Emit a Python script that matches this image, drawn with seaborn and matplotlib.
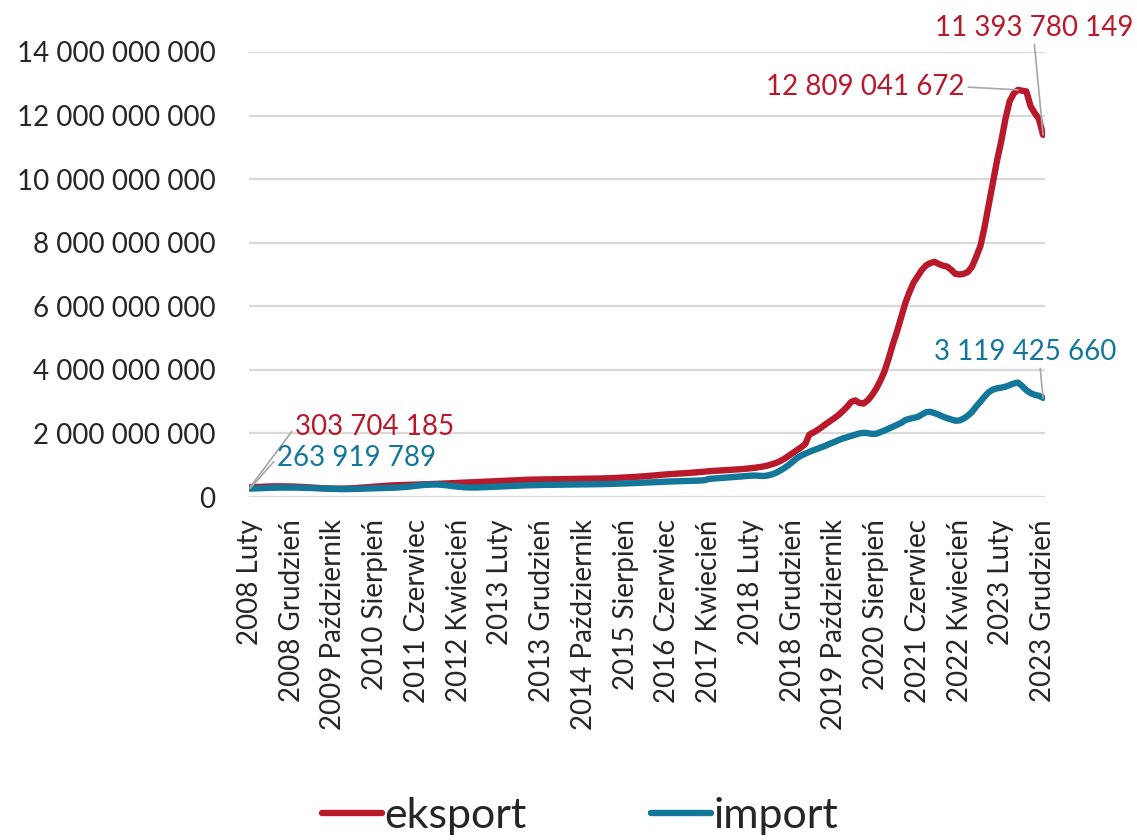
import numpy as np
import pandas as pd
import seaborn as sns
import matplotlib.pyplot as plt

# values in millions PLN, monthly from 2008 Luty to 2023 Grudzień
eksport = [303.704185, 310, 318, 325, 330, 333, 335, 336, 335, 333, 330,
           325, 318, 310, 300, 292, 285, 278, 272, 268, 265,
           262, 262, 265, 270, 278, 288, 298, 308, 318, 328,
           338, 348, 356, 364, 370, 375, 380, 384, 388, 392,
           396, 400, 405, 410, 415, 420, 426, 432, 438, 444,
           450, 455, 460, 466, 472, 478, 484, 490, 496, 502,
           508, 514, 520, 528, 535, 540, 545, 548, 550, 552,
           554, 556, 558, 560, 561, 563, 564, 566, 568, 570,
           572, 575, 578, 582, 586, 590, 596, 602, 608, 615,
           622, 630, 638, 648, 658, 668, 680, 692, 704, 714,
           722, 730, 740, 748, 756, 766, 776, 788, 800, 812,
           820, 828, 836, 844, 852, 860, 870, 880, 892, 905,
           920, 940, 960, 990, 1030, 1070, 1130, 1200, 1290, 1380,
           1470, 1560, 1660, 1960, 2030, 2110, 2200, 2300, 2390, 2480,
           2580, 2700, 2830, 2990, 3040, 2960, 2940, 3040, 3200, 3400,
           3650, 3950, 4350, 4800, 5200, 5650, 6100, 6450, 6750, 6950,
           7150, 7290, 7360, 7400, 7330, 7280, 7250, 7150, 7020, 7000,
           7020, 7080, 7250, 7560, 7900, 8500, 9200, 9900, 10600, 11200,
           11900, 12450, 12700, 12809.041672, 12780, 12760, 12300, 12080, 11900, 11393.780149]

import_ = [263.919789, 270, 276, 282, 287, 291, 294, 296, 297, 297, 296,
           295, 293, 290, 286, 281, 276, 270, 264, 258, 254,
           250, 248, 248, 250, 254, 258, 262, 266, 270, 274,
           278, 282, 286, 290, 296, 304, 314, 326, 340, 356,
           370, 382, 390, 394, 392, 384, 370, 352, 336, 322,
           310, 302, 298, 298, 302, 308, 314, 320, 326, 332,
           338, 344, 350, 356, 362, 366, 370, 374, 377, 380,
           382, 384, 386, 388, 390, 392, 393, 394, 395, 396,
           398, 400, 402, 404, 407, 410, 414, 418, 422, 426,
           432, 438, 444, 450, 456, 462, 468, 474, 480, 485,
           490, 494, 498, 502, 506, 510, 514, 518, 530, 570,
           580, 590, 600, 610, 620, 630, 640, 650, 660, 670,
           675, 668, 660, 675, 710, 760, 830, 910, 1000, 1110,
           1220, 1300, 1360, 1420, 1470, 1520, 1570, 1620, 1680, 1730,
           1790, 1840, 1880, 1920, 1960, 2000, 2020, 2010, 1985, 1990,
           2040, 2090, 2150, 2210, 2270, 2330, 2420, 2460, 2490, 2520,
           2600, 2670, 2680, 2640, 2590, 2530, 2480, 2440, 2400, 2410,
           2470, 2560, 2680, 2850, 3000, 3160, 3300, 3380, 3420, 3440,
           3470, 3520, 3570, 3600, 3490, 3360, 3270, 3215, 3185, 3119.425660]

tick_labels = ['2008 Luty', '2008 Grudzień', '2009 Październik', '2010 Sierpień',
               '2011 Czerwiec', '2012 Kwiecień', '2013 Luty', '2013 Grudzień',
               '2014 Październik', '2015 Sierpień', '2016 Czerwiec', '2017 Kwiecień',
               '2018 Luty', '2018 Grudzień', '2019 Październik', '2020 Sierpień',
               '2021 Czerwiec', '2022 Kwiecień', '2023 Luty', '2023 Grudzień']

red = '#B8192B'
blue = '#13779A'

n = len(eksport)
df = pd.DataFrame({
    'miesiac': list(range(n)) * 2,
    'wartosc': [v * 1e6 for v in eksport] + [v * 1e6 for v in import_],
    'seria': ['eksport'] * n + ['import'] * n,
})

sns.set_style('white')
plt.rcParams['font.family'] = ['Lato', 'DejaVu Sans']

fig = plt.figure(figsize=(11.37, 8.4), dpi=100)
ax = fig.add_axes([249 / 1137, 1 - 497 / 840, 796 / 1137, 445 / 840])

sns.lineplot(data=df, x='miesiac', y='wartosc', hue='seria',
             palette={'eksport': red, 'import': blue}, linewidth=4.6, ax=ax)
for ln in ax.get_lines():
    ln.set_solid_capstyle('round')
    ln.set_solid_joinstyle('round')
handles, labels = ax.get_legend_handles_labels()
ax.get_legend().remove()

ax.set_xlim(-0.24, 190.47)
ax.set_ylim(0, 14e9)
ax.set_yticks(np.arange(0, 14e9 + 1, 2e9))
ax.set_yticklabels([f'{int(v):,}'.replace(',', ' ') for v in ax.get_yticks()], fontsize=20)
ax.set_xticks(range(0, n, 10))
ax.set_xticklabels(tick_labels, rotation=90, fontsize=20)
ax.tick_params(axis='y', length=0, pad=24)
ax.tick_params(axis='x', length=0, pad=16)
ax.set_xlabel('')
ax.set_ylabel('')
ax.grid(axis='y', color='#D9D9D9', linewidth=1.6)
ax.set_axisbelow(True)
for s in ax.spines.values():
    s.set_visible(False)

lead = dict(arrowstyle='-', color='#A6A6A6', lw=1.2, shrinkA=0, shrinkB=0)
# data labels
ax.annotate(f'{round(eksport[0] * 1e6):,}'.replace(',', ' '), xy=(0, eksport[0] * 1e6),
            xytext=(10.8, 2.2e9), color=red, fontsize=20, ha='left', va='center',
            arrowprops=dict(lead, relpos=(0, 0.5)), annotation_clip=False)
ax.annotate(f'{round(import_[0] * 1e6):,}'.replace(',', ' '), xy=(0, import_[0] * 1e6),
            xytext=(6.5, 1.23e9), color=blue, fontsize=20, ha='left', va='center',
            arrowprops=dict(lead, relpos=(0, 0.5)), annotation_clip=False)
pk = int(np.argmax(eksport))
ax.annotate(f'{round(eksport[pk] * 1e6):,}'.replace(',', ' '), xy=(pk, eksport[pk] * 1e6),
            xytext=(171.3, 12.9e9), color=red, fontsize=20, ha='right', va='center',
            arrowprops=dict(lead, relpos=(1, 0.5)), annotation_clip=False)
ax.annotate(f'{round(eksport[-1] * 1e6):,}'.replace(',', ' '), xy=(n - 1, eksport[-1] * 1e6),
            xytext=(187.8, 14.75e9), color=red, fontsize=20, ha='center', va='center',
            arrowprops=dict(lead, relpos=(0.5, 0.1)), annotation_clip=False)
ax.annotate(f'{round(import_[-1] * 1e6):,}'.replace(',', ' '), xy=(n - 1, import_[-1] * 1e6),
            xytext=(185.7, 4.56e9), color=blue, fontsize=20, ha='center', va='center',
            arrowprops=dict(lead, relpos=(0.58, 0.1)), annotation_clip=False)

fig.legend(handles, labels, loc='center', bbox_to_anchor=(0.51, 0.028), ncol=2,
           frameon=False, fontsize=31, handlelength=1.4, handletextpad=0.05,
           columnspacing=2.9)

fig.savefig('out.png', dpi=100)
